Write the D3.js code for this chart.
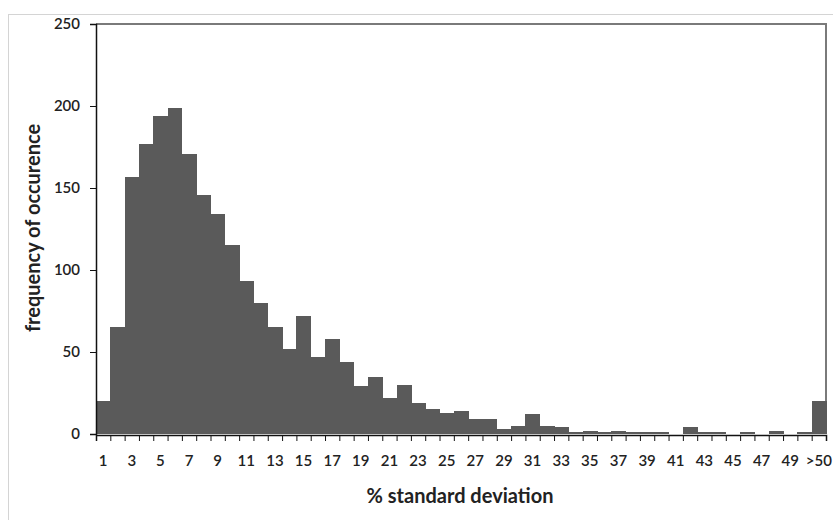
<!DOCTYPE html>
<html>
<head>
<meta charset="utf-8">
<script src="https://cdn.jsdelivr.net/npm/d3@7/dist/d3.min.js"></script>
<style>
  html, body { margin: 0; padding: 0; background: #ffffff; }
  svg { display: block; }
  text { font-family: Lato, "Open Sans", "DejaVu Sans", sans-serif; fill: #222; }
</style>
</head>
<body>
<svg id="chart" width="833" height="520"></svg>
<script>
// Histogram bins: % standard deviation, 1 .. 50 and an overflow bin
const categories = d3.range(1, 51).map(String).concat([">50"]);
const frequencies = [
  20, 65, 157, 177, 194, 199, 171, 146, 134, 115,
  93, 80, 65, 52, 72, 47, 58, 44, 29, 35,
  22, 30, 19, 15, 13, 14, 9, 9, 3, 5,
  12, 5, 4, 1, 2, 1, 2, 1, 1, 1,
  0, 4, 1, 1, 0, 1, 0, 2, 0, 1,
  20
];
const yTicks = [0, 50, 100, 150, 200, 250];
const xLabelled = categories.filter((c, i) => i % 2 === 0 || c === ">50");

const svg = d3.select("#chart");
const plot = { left: 96, right: 826, top: 24, bottom: 434 };

// outer chart-area frame
svg.append("rect")
  .attr("x", 8.5).attr("y", 14.5)
  .attr("width", 840).attr("height", 520)
  .attr("fill", "none").attr("stroke", "#d4d4d4").attr("stroke-width", 1);

const x = d3.scaleBand().domain(categories).range([plot.left, plot.right]).padding(0);
const xEdge = d3.scaleLinear().domain([0, categories.length]).range([plot.left, plot.right]);
const y = d3.scaleLinear().domain([0, 250]).range([plot.bottom, plot.top]);

// plot-area border (top and right)
svg.append("path")
  .attr("d", `M${plot.left},${plot.top}H${plot.right}V${plot.bottom}`)
  .attr("fill", "none").attr("stroke", "#7a7a7a").attr("stroke-width", 2);

// bars
svg.append("g")
  .attr("shape-rendering", "crispEdges")
  .selectAll("rect")
  .data(frequencies)
  .join("rect")
  .attr("x", (d, i) => x(categories[i]))
  .attr("width", x.bandwidth() + 0.6)
  .attr("y", d => y(d))
  .attr("height", d => y(0) - y(d))
  .attr("fill", "#5a5a5a");

// y axis
const yAxis = svg.append("g")
  .attr("transform", `translate(${plot.left},0)`)
  .call(d3.axisLeft(y).tickValues(yTicks).tickSize(6).tickPadding(10));
yAxis.select(".domain").attr("stroke", "#111").attr("stroke-width", 1.5);
yAxis.selectAll(".tick line").attr("stroke", "#111");
yAxis.selectAll(".tick text")
  .style("font-family", "Lato, sans-serif")
  .style("font-size", "15px").style("font-weight", "600").attr("fill", "#333");

// x axis: tick marks at every bin edge
const xEdges = svg.append("g")
  .attr("transform", `translate(0,${plot.bottom + 1})`)
  .call(d3.axisBottom(xEdge).tickValues(d3.range(categories.length + 1)).tickSize(6).tickFormat(""));
xEdges.select(".domain").attr("stroke", "#111").attr("stroke-width", 1.5);
xEdges.selectAll(".tick line").attr("stroke", "#111");

// x axis: labels centred under every other bin
const xLabels = svg.append("g")
  .attr("transform", `translate(0,${plot.bottom + 1})`)
  .call(d3.axisBottom(x).tickValues(xLabelled).tickSize(0).tickPadding(20));
xLabels.select(".domain").remove();
xLabels.selectAll(".tick text")
  .style("font-family", "Lato, sans-serif")
  .style("font-size", "15px").style("font-weight", "600").attr("fill", "#333");

// axis titles
svg.append("text")
  .attr("x", 460).attr("y", 503)
  .attr("text-anchor", "middle")
  .style("font-size", "20px").style("font-weight", "700")
  .text("% standard deviation");

svg.append("text")
  .attr("transform", "translate(40,228) rotate(-90)")
  .attr("text-anchor", "middle")
  .style("font-size", "20px").style("font-weight", "700")
  .text("frequency of occurence");
</script>
</body>
</html>
